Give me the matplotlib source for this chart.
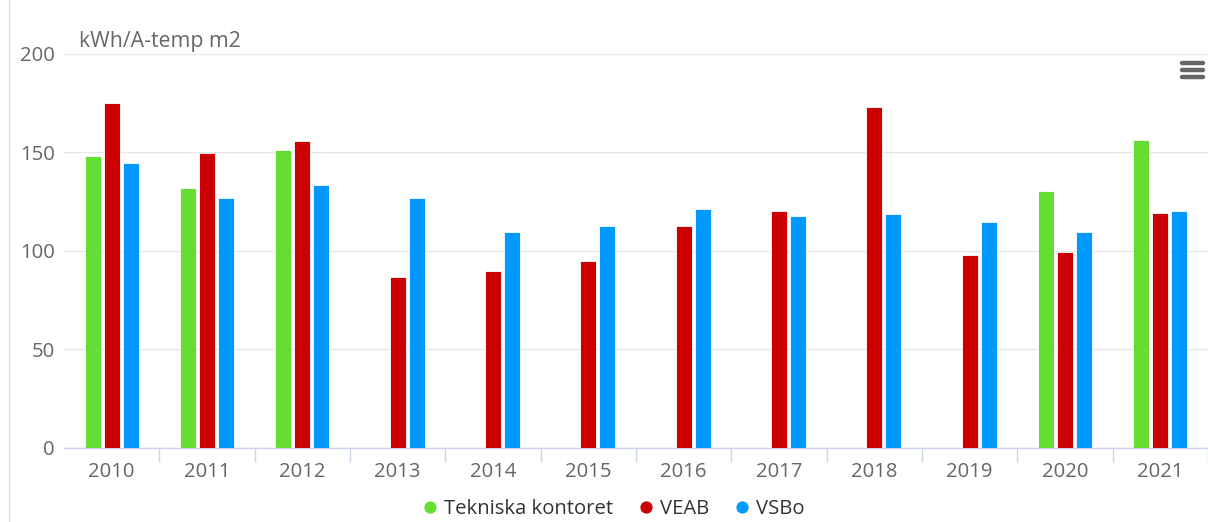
#!/usr/bin/env python3
import numpy as np
import matplotlib
matplotlib.use("Agg")
import matplotlib.pyplot as plt
from matplotlib.lines import Line2D

YEARS = [str(y) for y in range(2010, 2022)]
SERIES = ["Tekniska kontoret", "VEAB", "VSBo"]
COLORS = ["#66dd33", "#cc0000", "#0099ff"]

# nan = no value reported that year
TEKNISKA = [148.1, 131.8, 151.1, np.nan, np.nan, np.nan, np.nan, np.nan, np.nan, np.nan, 130.3, 156.4]
VEAB = [175.2, 149.8, 155.7, 86.4, 89.5, 94.7, 112.6, 119.9, 172.8, 97.7, 99.1, 119.2]
VSBO = [144.5, 126.6, 133.4, 126.6, 109.5, 112.4, 121.2, 117.6, 118.4, 114.6, 109.5, 119.9]

Y_TITLE = "kWh/A-temp m2"
Y_TICKS = [0, 50, 100, 150, 200]

plt.rcParams["font.family"] = ["Open Sans", "DejaVu Sans"]
FS = 14.6

fig = plt.figure(figsize=(12.08, 5.22), dpi=100)
ax = fig.add_axes([64 / 1208, 1 - 447.7 / 522, 1 - 64 / 1208, (447.7 - 53.7) / 522])

x = np.arange(len(YEARS))
width = 0.168
pitch = 0.2
for k, (name, vals, col) in enumerate(zip(SERIES, [TEKNISKA, VEAB, VSBO], COLORS)):
    vals = np.array(vals, dtype=float)
    ok = ~np.isnan(vals)
    ax.bar(x[ok] + (k - 1) * pitch, vals[ok], width=width, color=col,
           edgecolor="white", linewidth=0.6, zorder=3)

ax.set_xlim(-0.5, len(YEARS) - 0.5)
ax.set_ylim(0, 200)
ax.set_yticks(Y_TICKS)
ax.set_yticklabels([str(v) for v in Y_TICKS], fontsize=FS, color="#666666")
ax.grid(axis="y", color="#e6e6e6", linewidth=1, zorder=0)
ax.tick_params(axis="y", length=0, pad=6.5)

ax.set_xticks(x)
ax.set_xticklabels(YEARS, fontsize=FS, color="#666666")
ax.tick_params(axis="x", which="major", length=0, pad=10)
ax.set_xticks(np.arange(0.5, len(YEARS), 1), minor=True)
ax.tick_params(axis="x", which="minor", length=10, color="#ccd6eb", width=1)

for side in ["top", "right", "left"]:
    ax.spines[side].set_visible(False)
ax.spines["bottom"].set_color("#ccd6eb")
ax.spines["bottom"].set_linewidth(1)

fig.text(79 / 1208, 1 - 41 / 522, Y_TITLE, fontsize=15.3, color="#666666",
         ha="left", va="center")

# left border of the chart container
fig.add_artist(Line2D([9 / 1208, 9 / 1208], [0, 1], color="#e0e0e0", linewidth=1))

# export menu icon
for yy in [63, 70, 77]:
    fig.add_artist(Line2D([1182 / 1208, 1203 / 1208], [1 - yy / 522, 1 - yy / 522],
                          color="#666666", linewidth=3.2, solid_capstyle="round"))

handles = [Line2D([0], [0], marker="o", linestyle="none", markersize=7.8,
                  markerfacecolor=c, markeredgecolor=c) for c in COLORS]
fig.legend(handles, SERIES, loc="center", bbox_to_anchor=(614 / 1208, 1 - 509 / 522),
           ncol=3, frameon=False, fontsize=FS, handlelength=0.6, handletextpad=0.4,
           columnspacing=1.3, labelcolor="#333333", borderaxespad=0, borderpad=0)

fig.savefig("out.png", dpi=100)
